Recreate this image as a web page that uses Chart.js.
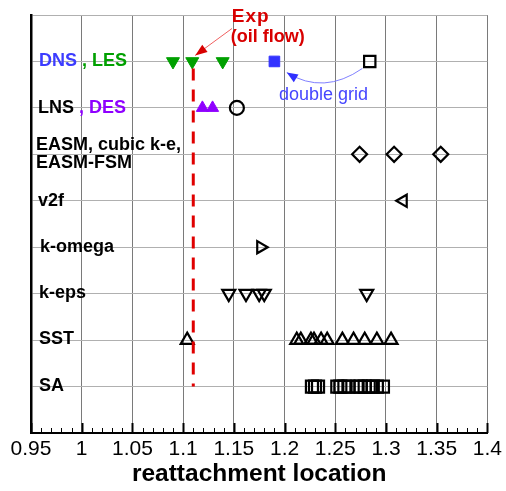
<!DOCTYPE html>
<html>
<head>
<meta charset="utf-8">
<script src="https://cdn.jsdelivr.net/npm/chart.js@4"></script>
<style>
  body { margin: 0; background: #fff; }
</style>
</head>
<body>
<canvas id="reattachChart" width="506" height="491"></canvas>
<script>
// rows of the plot, bottom to top
var rowNames = ['SA', 'SST', 'k-eps', 'k-omega', 'v2f', 'EASM', 'LNS , DES', 'DNS , LES'];
var rowSA = 1, rowSST = 2, rowKEps = 3, rowKOmega = 4, rowV2f = 5, rowEasm = 6, rowLnsDes = 7, rowDnsLes = 8;

// x axis ticks
var xTickValues = [0.95, 1, 1.05, 1.1, 1.15, 1.2, 1.25, 1.3, 1.35, 1.4];
var xTickLabels = ['0.95', '1', '1.05', '1.1', '1.15', '1.2', '1.25', '1.3', '1.35', '1.4'];

// reattachment locations
var lesX = [1.090, 1.109, 1.139];
var dnsX = [1.190];
var dnsDoubleGridX = [1.284];
var desX = [1.119, 1.129];
var lnsX = [1.153];
var easmX = [1.274, 1.308, 1.354];
var v2fX = [1.317];
var kOmegaX = [1.1765];
var kEpsX = [1.145, 1.162, 1.175, 1.180, 1.281];
var sstX = [1.104, 1.212, 1.216, 1.226, 1.229, 1.236, 1.242, 1.257, 1.268, 1.279, 1.291, 1.305];
var saX = [1.227, 1.230, 1.233, 1.252, 1.255, 1.259, 1.263, 1.272, 1.275, 1.279, 1.283, 1.287, 1.291, 1.297];
var expX = 1.11;       // experiment (oil flow)
var expTop = 7.85;     // dashed line runs from the DNS row down to SA

var FONT = '"Liberation Sans", Arial, Helvetica, sans-serif';

function onRow(xs, row) {
    return xs.map(function (v) { return { x: v, y: row }; });
}

function markers(xs, row, style, rotation, radius, color, filled) {
    return {
        data: onRow(xs, row),
        pointStyle: style,
        rotation: rotation,
        radius: radius,
        borderColor: color,
        backgroundColor: filled ? color : 'rgba(0,0,0,0)',
        borderWidth: filled ? 1 : 2.2,
        showLine: false
    };
}

function arrowHead(ctx, x0, y0, x1, y1, len, half, color) {
    var a = Math.atan2(y1 - y0, x1 - x0);
    var c = Math.cos(a), s = Math.sin(a);
    ctx.beginPath();
    ctx.moveTo(x1, y1);
    ctx.lineTo(x1 - len * c + half * s, y1 - len * s - half * c);
    ctx.lineTo(x1 - len * c - half * s, y1 - len * s + half * c);
    ctx.closePath();
    ctx.fillStyle = color;
    ctx.fill();
}

// row labels, notes and the inward minor ticks
var notesPlugin = {
    id: 'notes',
    afterDraw: function (chart) {
        var ctx = chart.ctx;
        var xs = chart.scales.x, ys = chart.scales.y;
        var px = function (v) { return xs.getPixelForValue(v); };
        var py = function (v) { return ys.getPixelForValue(v); };
        ctx.save();

        // ticks pointing up into the plot
        ctx.strokeStyle = '#000';
        for (var i = 0; i <= 45; i++) {
            var x = Math.round(px(0.95 + i * 0.01)) + 0.5;
            var major = i % 5 === 0;
            ctx.lineWidth = major ? 2 : 1;
            ctx.beginPath();
            ctx.moveTo(x, ys.bottom);
            ctx.lineTo(x, ys.bottom - (major ? 10 : 5));
            ctx.stroke();
        }

        // row labels
        ctx.font = 'bold 18px ' + FONT;
        ctx.textBaseline = 'middle';
        ctx.textAlign = 'left';
        var left = xs.left;
        function label(parts, x, y) {
            parts.forEach(function (p) {
                ctx.fillStyle = p[1];
                ctx.fillText(p[0], x, y);
                x += ctx.measureText(p[0]).width;
            });
        }
        label([['DNS ', '#3c3cff'], [', LES', '#00a000']], left + 8, py(rowDnsLes));
        label([['LNS ', '#000'], [', DES', '#8f00ff']], left + 7, py(rowLnsDes));
        label([['EASM, cubic k-e,', '#000']], left + 5, py(rowEasm) - 9);
        label([['EASM-FSM', '#000']], left + 5, py(rowEasm) + 9);
        label([['v2f', '#000']], left + 7, py(rowV2f));
        label([['k-omega', '#000']], left + 9, py(rowKOmega));
        label([['k-eps', '#000']], left + 8, py(rowKEps) - 1);
        label([['SST', '#000']], left + 8, py(rowSST) - 1);
        label([['SA', '#000']], left + 8, py(rowSA) - 1);

        // Exp (oil flow) note with arrow
        ctx.textBaseline = 'alphabetic';
        ctx.fillStyle = '#d80000';
        ctx.font = 'bold 19px ' + FONT;
        ctx.letterSpacing = '1px';
        ctx.fillText('Exp', px(1.148), py(8.84));
        ctx.letterSpacing = '0px';
        ctx.font = 'bold 18px ' + FONT;
        ctx.fillText('(oil flow)', px(1.147), py(8.42));
        var ax0 = px(1.1482), ay0 = py(8.71), ax1 = px(1.1119), ay1 = py(8.13);
        ctx.strokeStyle = '#f06060';
        ctx.lineWidth = 1;
        ctx.beginPath();
        ctx.moveTo(ax0, ay0);
        ctx.lineTo(ax1, ay1);
        ctx.stroke();
        arrowHead(ctx, ax0, ay0, ax1, ay1, 12, 4.5, '#d80000');

        // double grid note with curved arrow
        ctx.font = '18px ' + FONT;
        ctx.fillStyle = '#4646ff';
        ctx.fillText('double grid', px(1.1944), py(7.18));
        var cx0 = px(1.2768), cy0 = py(7.85), cxc = px(1.2385), cyc = py(7.27), cx1 = px(1.2022), cy1 = py(7.76);
        ctx.strokeStyle = '#8080ff';
        ctx.beginPath();
        ctx.moveTo(cx0, cy0);
        ctx.quadraticCurveTo(cxc, cyc, cx1, cy1);
        ctx.stroke();
        arrowHead(ctx, cxc, cyc, cx1, cy1, 11, 4.5, '#3030ff');

        ctx.restore();
    }
};

var datasets = [
    {
        data: [{ x: expX, y: expTop }, { x: expX, y: rowSA }],
        showLine: true,
        borderColor: '#e00000',
        borderWidth: 3,
        borderDash: [12, 9],
        pointRadius: 0
    },
    markers(lesX, rowDnsLes, 'triangle', 180, 7.5, '#00a000', true),
    markers(dnsX, rowDnsLes, 'rect', 0, 7.5, '#3232ff', true),
    markers(dnsDoubleGridX, rowDnsLes, 'rect', 0, 8, '#000', false),
    markers(desX, rowLnsDes, 'triangle', 0, 7, '#8f00ff', true),
    markers(lnsX, rowLnsDes, 'circle', 0, 7, '#000', false),
    markers(easmX, rowEasm, 'rectRot', 0, 7.5, '#000', false),
    markers(v2fX, rowV2f, 'triangle', -90, 7, '#000', false),
    markers(kOmegaX, rowKOmega, 'triangle', 90, 7, '#000', false),
    markers(kEpsX, rowKEps, 'triangle', 180, 7.5, '#000', false),
    markers(sstX, rowSST, 'triangle', 0, 7.5, '#000', false),
    markers(saX, rowSA, 'rect', 0, 8.5, '#000', false)
];

var chart = new Chart(document.getElementById('reattachChart').getContext('2d'), {
    type: 'scatter',
    data: { datasets: datasets },
    options: {
        responsive: false,
        animation: false,
        devicePixelRatio: 1,
        layout: { padding: { top: 15, right: 17, left: 0, bottom: 0 } },
        plugins: { legend: { display: false }, tooltip: { enabled: false } },
        scales: {
            x: {
                type: 'linear',
                min: 0.95,
                max: 1.4,
                afterBuildTicks: function (s) {
                    s.ticks = xTickValues.map(function (v) { return { value: v }; });
                },
                afterFit: function (s) { s.height = 58; },
                grid: { color: '#7a7a7a', lineWidth: 1, drawTicks: false },
                border: { color: '#000', width: 2 },
                ticks: {
                    color: '#000',
                    font: { family: FONT, size: 21 },
                    padding: 4,
                    maxRotation: 0,
                    autoSkip: false,
                    callback: function (v, i) { return xTickLabels[i]; }
                },
                title: {
                    display: true,
                    text: 'reattachment location',
                    color: '#000',
                    font: { family: FONT, size: 24.5, weight: 'bold' },
                    padding: { top: 0, bottom: 2 }
                }
            },
            y: {
                type: 'linear',
                min: 0,
                max: rowNames.length + 1,
                afterFit: function (s) { s.width = 31; },
                grid: { color: '#b0b0b0', lineWidth: 1, drawTicks: false },
                border: { color: '#000', width: 2.5 },
                ticks: { display: false, stepSize: 1 }
            }
        }
    },
    plugins: [notesPlugin]
});
</script>
</body>
</html>
